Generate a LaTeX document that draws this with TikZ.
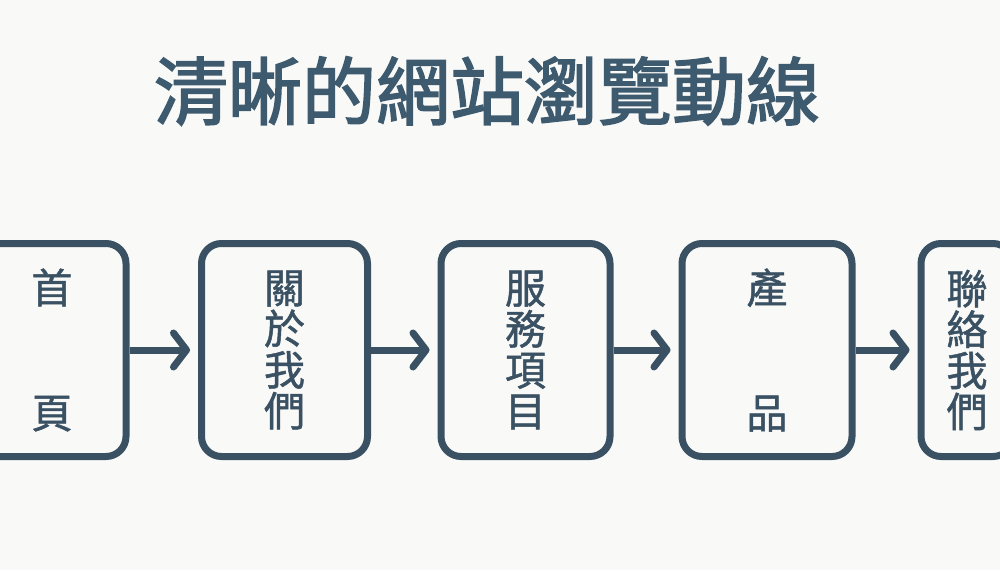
\documentclass[tikz,border=0pt]{standalone}
\usepackage{fontspec}
\newfontfamily\cjk{Noto Sans CJK TC}
\newfontfamily\cjktitle[FakeBold=2.2]{Noto Sans CJK TC}
\newfontfamily\cjkbox[FakeBold=1.2]{Noto Sans CJK TC}
\usetikzlibrary{arrows.meta}
\definecolor{slate}{HTML}{3A5163}
\definecolor{titlec}{HTML}{3E5A6E}
\definecolor{bg}{HTML}{F9F9F7}
\begin{document}
\begin{tikzpicture}[x=1pt,y=-1pt,
  pagebox/.style={draw=slate, line width=7pt, rounded corners=20pt,
    minimum height=213pt, inner sep=0pt, text=slate, align=center,
    font=\cjkbox\fontsize{41pt}{41pt}\selectfont},
  flowarrow/.style={draw=slate, line width=7pt,
    -{Straight Barb[length=13pt, width=34pt, line cap=round, line join=round]},
    shorten >=8pt}]
\useasboundingbox (0,0) rectangle (1000,570);
\fill[bg] (0,0) rectangle (1000,570);
\clip (0,0) rectangle (1000,570);
\node[text=titlec, font=\cjktitle\fontsize{74pt}{74pt}\selectfont] (title) at (487,91) {清晰的網站瀏覽動線};
\node[pagebox, minimum width=148pt] (home) at (52,350) {首\\[84pt]頁};
\node[pagebox, minimum width=166pt] (about) at (284.5,350) {關\\於\\我\\們};
\node[pagebox, minimum width=169pt] (service) at (525.5,350) {服\\務\\項\\目};
\node[pagebox, minimum width=170pt] (product) at (767,350) {產\\[84pt]品};
\node[pagebox, minimum width=92pt] (contact) at (967,350) {聯\\絡\\我\\們};
\draw[flowarrow] (home.east) -- (about.west);
\draw[flowarrow] (about.east) -- (service.west);
\draw[flowarrow] (service.east) -- (product.west);
\draw[flowarrow] (product.east) -- (contact.west);
\end{tikzpicture}
\end{document}
